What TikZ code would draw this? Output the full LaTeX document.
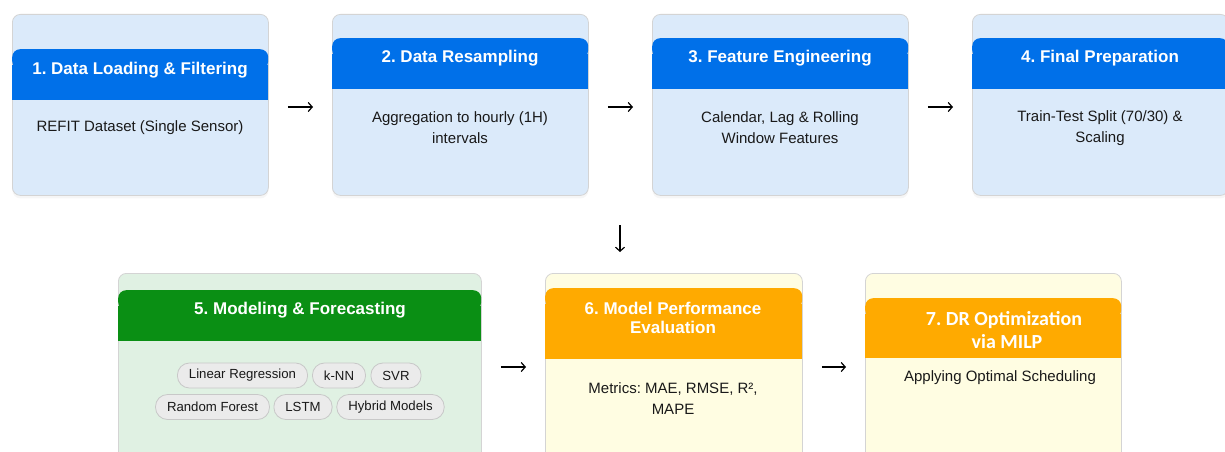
\documentclass[tikz,border=0pt]{standalone}
\usepackage{fontspec}
\setmainfont{Liberation Sans}
\newfontfamily\carlito{Carlito}
\usetikzlibrary{arrows.meta,shadows}
\frenchspacing
\definecolor{bhead}{RGB}{0,112,233}
\definecolor{bbody}{RGB}{219,234,250}
\definecolor{ghead}{RGB}{10,143,20}
\definecolor{gbody}{RGB}{224,241,227}
\definecolor{ohead}{RGB}{255,170,0}
\definecolor{obody}{RGB}{255,253,226}
\definecolor{bordergray}{RGB}{212,212,212}
\definecolor{pillfill}{RGB}{235,235,235}
\definecolor{pillborder}{RGB}{200,200,200}
\definecolor{txt}{RGB}{25,25,25}
\begin{document}
\frenchspacing
\begin{tikzpicture}[x=1pt,y=-1pt,
  outer/.style={draw=bordergray, line width=0.8pt, rounded corners=8pt, anchor=north west, inner sep=0pt,
     drop shadow={shadow xshift=0pt, shadow yshift=-3pt, opacity=0.07}},
  head/.style={rounded corners=8pt, anchor=north west, inner sep=0pt, minimum height=20pt},
  title/.style={text=white, font=\bfseries\fontsize{17}{20}\selectfont, align=center, inner sep=0pt},
  body/.style={text=txt, font=\fontsize{15}{21}\selectfont, align=center, inner sep=0pt},
  pill/.style={draw=pillborder, fill=pillfill, line width=0.8pt, rounded corners=12pt, minimum height=25pt,
     inner xsep=11.5pt, inner ysep=0pt, text=txt, font=\fontsize{13.2}{15}\selectfont},
  arr/.style={line width=1.2pt, -{Straight Barb[length=4pt,width=9pt]}, shorten <=19pt, shorten >=19pt}]
\useasboundingbox (0,0) rectangle (1225,452);
\fill[white] (0,0) rectangle (1225,452);

% ---------- top row ----------
\node[outer, fill=bbody, minimum width=256pt, minimum height=181pt] (b1) at (12,14) {};
\node[outer, fill=bbody, minimum width=256pt, minimum height=181pt] (b2) at (332,14) {};
\node[outer, fill=bbody, minimum width=256pt, minimum height=181pt] (b3) at (652,14) {};
\node[outer, fill=bbody, minimum width=256pt, minimum height=181pt] (b4) at (972,14) {};

\node[head, fill=bhead, minimum width=256pt] (h1) at (12,49) {};
\fill[bhead] (12,65) rectangle (268,100);
\node[head, fill=bhead, minimum width=256pt] (h2) at (332,38) {};
\fill[bhead] (332,54) rectangle (588,89);
\node[head, fill=bhead, minimum width=256pt] (h3) at (652,38) {};
\fill[bhead] (652,54) rectangle (908,89);
\node[head, fill=bhead, minimum width=256pt] (h4) at (972,38) {};
\fill[bhead] (972,54) rectangle (1228,89);

\node[title] (t1) at (140,70.5) {1. Data Loading \& Filtering};
\node[title] (t2) at (460,58.5) {2. Data Resampling};
\node[title] (t3) at (780,58.5) {3. Feature Engineering};
\node[title] (t4) at (1100,58.5) {4. Final Preparation};

\node[body] (d1) at (140,128) {REFIT Dataset (Single Sensor)};
\node[body] (d2) at (460,128) {Aggregation to hourly (1H)\\intervals};
\node[body] (d3) at (780,128) {Calendar, Lag \& Rolling\\Window Features};
\node[body] (d4) at (1100,128) {Train-Test Split (70/30) \&\\Scaling};

% ---------- bottom row ----------
\node[outer, fill=gbody, minimum width=363pt, minimum height=200pt] (b5) at (118,273) {};
\node[outer, fill=obody, minimum width=257pt, minimum height=200pt] (b6) at (545,273) {};
\node[outer, fill=obody, minimum width=256pt, minimum height=200pt] (b7) at (865,273) {};

\node[head, fill=ghead, minimum width=363pt] (h5) at (118,290) {};
\fill[ghead] (118,306) rectangle (481,341);
\node[head, fill=ohead, minimum width=257pt] (h6) at (545,288) {};
\fill[ohead] (545,304) rectangle (802,359);
\node[head, fill=ohead, minimum width=256pt] (h7) at (865,298) {};
\fill[ohead] (865,314) rectangle (1121,358);

\node[title] (t5) at (300,310) {5. Modeling \& Forecasting};
\node[title, font=\bfseries\fontsize{17}{19.5}\selectfont] (t6) at (673,318) {6. Model Performance\\Evaluation};
\node[title, font=\carlito\bfseries\fontsize{20}{23}\selectfont] (t7) at (1004,330) {7. DR Optimization\\\hspace*{6pt}via MILP};

\node[pill] (p1) at (242.5,375.5) {Linear Regression};
\node[pill] (p2) at (339,375.5) {k-NN};
\node[pill] (p3) at (396,375.5) {SVR};
\node[pill] (p4) at (212.5,407) {Random Forest};
\node[pill] (p5) at (303,407) {LSTM};
\node[pill] (p6) at (390.5,407) {Hybrid Models};

\node[body] (d6) at (673,398.5) {Metrics: MAE, RMSE, R², \\MAPE};
\node[body] (d7) at (1000,378) {Applying Optimal Scheduling};

% ---------- arrows ----------
\draw[arr] (b1.east |- 0,107) -- (b2.west |- 0,107);
\draw[arr] (b2.east |- 0,107) -- (b3.west |- 0,107);
\draw[arr] (b3.east |- 0,107) -- (b4.west |- 0,107);
\coordinate (dtop) at (620,225);
\coordinate (dbot) at (620,252);
\draw[line width=1.2pt, -{Straight Barb[length=4pt,width=9pt]}] (dtop) -- (dbot);
\draw[arr] (b5.east |- 0,367) -- (b6.west |- 0,367);
\draw[arr] (b6.east |- 0,367) -- (b7.west |- 0,367);
\end{tikzpicture}
\end{document}
